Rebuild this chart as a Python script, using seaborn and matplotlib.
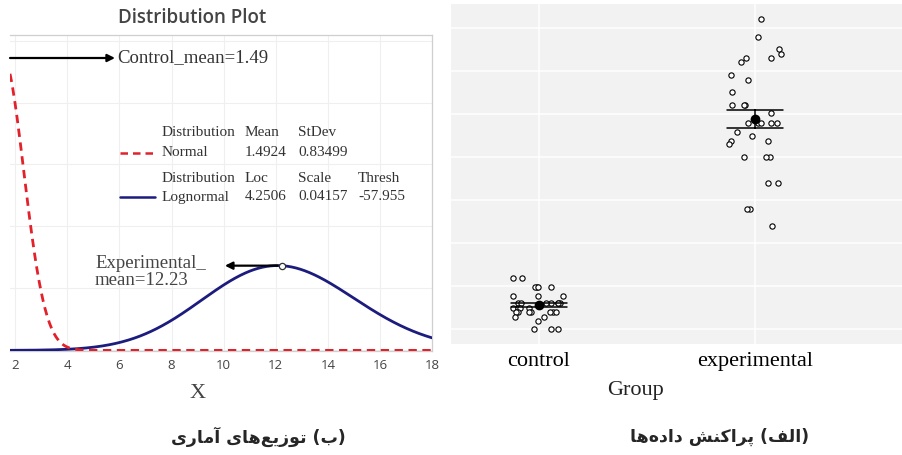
import numpy as np
import pandas as pd
import matplotlib
matplotlib.use("Agg")
import matplotlib.pyplot as plt
import seaborn as sns
from matplotlib.lines import Line2D

# ---------------- data ----------------
# Left panel: fitted distributions (parameters as printed in the chart legend)
normal_mean = 1.4924
normal_sd = 0.83499
lognorm_loc = 4.2506
lognorm_scale = 0.04157
lognorm_thresh = -57.955
control_mean_label = "Control_mean=1.49"
exp_mean_label = "Experimental_\nmean=12.23"
exp_mean = 12.23
x_ticks = [2, 4, 6, 8, 10, 12, 14, 16, 18]

groups = ["control", "experimental"]
control = [2.99, 2.99, 2.46, 2.46, 2.46, 2.46, 1.94, 1.94, 1.94,
           1.51, 1.51, 1.51, 1.51, 1.51, 1.51, 1.51,
           1.24, 1.24, 1.24, 1.24,
           1.01, 1.01, 1.01, 1.01, 1.01, 1.01, 1.01,
           0.72, 0.72, 0.48, 0.0, 0.0, 0.0]
experimental = [18.04, 17.0, 16.3, 16.0, 15.77, 15.54, 15.77, 14.78, 14.49, 13.8,
                13.04, 13.04, 13.04, 12.57,
                11.99, 11.99, 11.99, 11.99, 11.99,
                11.47, 11.23, 10.94, 10.94, 10.77,
                10.01, 10.01, 10.01, 8.5, 8.5, 6.98, 6.98, 6.0]

caption_left = "(ب) توزیع\u200cهای آماری"
caption_right = "(الف) پراکنش داده\u200cها"

# ---------------- Persian shaping (presentation forms, visual order) ----------------
FORMS = {
    'ا': ('\uFE8D', '\uFE8E', None, None),
    'آ': ('\uFE81', '\uFE82', None, None),
    'ب': ('\uFE8F', '\uFE90', '\uFE91', '\uFE92'),
    'ت': ('\uFE95', '\uFE96', '\uFE97', '\uFE98'),
    'د': ('\uFEA9', '\uFEAA', None, None),
    'ر': ('\uFEAD', '\uFEAE', None, None),
    'ز': ('\uFEAF', '\uFEB0', None, None),
    'ش': ('\uFEB5', '\uFEB6', '\uFEB7', '\uFEB8'),
    'ع': ('\uFEC9', '\uFECA', '\uFECB', '\uFECC'),
    'ف': ('\uFED1', '\uFED2', '\uFED3', '\uFED4'),
    'ل': ('\uFEDD', '\uFEDE', '\uFEDF', '\uFEE0'),
    'م': ('\uFEE1', '\uFEE2', '\uFEE3', '\uFEE4'),
    'ن': ('\uFEE5', '\uFEE6', '\uFEE7', '\uFEE8'),
    'ه': ('\uFEE9', '\uFEEA', '\uFEEB', '\uFEEC'),
    'و': ('\uFEED', '\uFEEE', None, None),
    'پ': ('\uFB56', '\uFB57', '\uFB58', '\uFB59'),
    'ک': ('\uFB8E', '\uFB8F', '\uFB90', '\uFB91'),
    'ی': ('\uFBFC', '\uFBFD', '\uFBFE', '\uFBFF'),
}


def shape_fa(s):
    out = []
    ch = list(s)
    for i, c in enumerate(ch):
        if c == '\u200c':
            continue
        if c not in FORMS:
            out.append(c)
            continue
        f = FORMS[c]
        prev = ch[i - 1] if i > 0 else None
        nxt = ch[i + 1] if i + 1 < len(ch) else None
        jp = prev in FORMS and FORMS[prev][2] is not None
        jn = nxt in FORMS and f[2] is not None
        if jp and jn:
            g = f[3]
        elif jp:
            g = f[1]
        elif jn:
            g = f[2]
        else:
            g = f[0]
        out.append(g)
    vis = ''.join(reversed(out))
    return vis.translate(str.maketrans('()', ')('))


# ---------------- figure ----------------
sns.set_style("white")
plt.rcParams['font.family'] = ['DejaVu Sans']
W, H = 903, 455
fig = plt.figure(figsize=(W / 100, H / 100), dpi=100)

SERIF = 'Liberation Serif'
SANS = 'Open Sans'

# ---- left panel ----
ax = fig.add_axes([10 / W, (H - 351) / H, 422 / W, 316 / H])
xs = np.linspace(1.8, 18, 600)
norm_pdf = np.exp(-0.5 * ((xs - normal_mean) / normal_sd) ** 2) / (normal_sd * np.sqrt(2 * np.pi))
z = xs - lognorm_thresh
logn_pdf = np.exp(-0.5 * ((np.log(z) - lognorm_loc) / lognorm_scale) ** 2) / (z * lognorm_scale * np.sqrt(2 * np.pi))
dfl = pd.DataFrame({"x": xs, "normal": norm_pdf, "lognormal": logn_pdf})

sns.lineplot(data=dfl, x="x", y="lognormal", color="#1c1c7e", lw=2.0, ax=ax, zorder=3)
sns.lineplot(data=dfl, x="x", y="normal", color="#e3212b", lw=2.0, ax=ax, zorder=4,
             linestyle=(0, (3, 2)))

ax.set_xlim(1.8, 18)
ax.set_ylim(-0.001, 0.509)
ax.set_xticks(x_ticks)
ax.set_xticklabels([str(t) for t in x_ticks], fontfamily=SANS, fontsize=9.5, color='#444444')
ax.set_yticks(np.arange(0, 0.51, 0.1))
ax.set_yticklabels([])
ax.tick_params(axis='both', length=0)
ax.tick_params(axis='x', pad=6)
ax.grid(True, color='#efefef', lw=0.8)
ax.set_axisbelow(True)
for s in ['left']:
    ax.spines[s].set_visible(False)
for s in ['top', 'right', 'bottom']:
    ax.spines[s].set_color('#cfcfcf')
    ax.spines[s].set_linewidth(0.9)
ax.set_ylabel('')
ax.set_xlabel('X', fontfamily=SERIF, fontsize=16, color='#444444', va='center')
ax.xaxis.set_label_coords((198 - 10) / 422, (351 - 393) / 316)

fig.text(192 / W, 1 - 18 / H, 'Distribution Plot', ha='center', va='center',
         fontfamily=SANS, fontsize=13.5, fontweight='semibold', color='#444444')

# control annotation arrow + text
ax.annotate('', xy=((115 - 10) / 422, (351 - 58) / 316), xytext=(0, (351 - 58) / 316),
            xycoords='axes fraction', textcoords='axes fraction',
            arrowprops=dict(arrowstyle='-|>', color='black', lw=1.6, mutation_scale=11,
                            shrinkA=0, shrinkB=0), annotation_clip=False)
ax.text((117 - 10) / 422, (351 - 58) / 316, control_mean_label, transform=ax.transAxes,
        ha='left', va='center', fontfamily=SERIF, fontsize=13.5, color='#333333')

# experimental annotation
zpk = exp_mean - lognorm_thresh
peak = np.exp(-0.5 * ((np.log(zpk) - lognorm_loc) / lognorm_scale) ** 2) / (zpk * lognorm_scale * np.sqrt(2 * np.pi))
ax.plot([exp_mean], [peak], marker='o', ms=4.5, mfc='white', mec='#333333', mew=0.9, zorder=6)
ax.annotate('', xy=(10.05, peak), xytext=(exp_mean, peak),
            arrowprops=dict(arrowstyle='-|>', color='black', lw=1.6, mutation_scale=11,
                            shrinkA=3, shrinkB=0), zorder=5)
ax.text((95 - 10) / 422, (351 - 272) / 316, exp_mean_label, transform=ax.transAxes,
        ha='left', va='center', fontfamily=SERIF, fontsize=13.5, color='#444444', linespacing=1.05)

# legend table
cols = [(162 - 10) / 422, (245 - 10) / 422, (298 - 10) / 422, (358 - 10) / 422]
rows = [(351 - 133) / 316, (351 - 153) / 316, (351 - 178) / 316, (351 - 197) / 316]
table = [["Distribution", "Mean", "StDev", ""],
         ["Normal", "1.4924", "0.83499", ""],
         ["Distribution", "Loc", "Scale", "Thresh"],
         ["Lognormal", "4.2506", "0.04157", "-57.955"]]
for r, row in enumerate(table):
    for c, t in enumerate(row):
        if t:
            ax.text(cols[c], rows[r], t, transform=ax.transAxes, ha='left', va='center',
                    fontfamily=SERIF, fontsize=11, color='#333333')
ax.add_line(Line2D([(120 - 10) / 422, (153 - 10) / 422], [rows[1], rows[1]], transform=ax.transAxes,
                   color="#e3212b", lw=1.8, linestyle=(0, (3, 2))))
ax.add_line(Line2D([(120 - 10) / 422, (155 - 10) / 422], [rows[3], rows[3]], transform=ax.transAxes,
                   color="#1c1c7e", lw=1.8))

# ---- right panel ----
ax2 = fig.add_axes([451 / W, (H - 344) / H, 452 / W, 340 / H])
ax2.set_facecolor('#f2f2f2')
df = pd.DataFrame({"group": ["control"] * len(control) + ["experimental"] * len(experimental),
                   "value": control + experimental})
np.random.seed(11)
sns.stripplot(data=df, x="group", y="value", order=groups, jitter=0.125, size=3.8,
              color='white', edgecolor='black', linewidth=0.8, ax=ax2, zorder=3)
sns.pointplot(data=df, x="group", y="value", order=groups, errorbar='se', capsize=0.26,
              color='black', linestyle='none', marker='o', markersize=5,
              err_kws={'linewidth': 1.1}, ax=ax2, zorder=4)
ax2.set_xlim(-0.407, 1.685)
ax2.set_ylim(-0.87, 18.92)
ax2.set_yticks(np.arange(0, 18, 2.5))
ax2.set_yticklabels([])
ax2.tick_params(axis='y', length=0)
ax2.tick_params(axis='x', length=3, width=0.8, color='#333333', pad=3)
ax2.set_xticks([0, 1])
ax2.set_xticklabels(groups, fontfamily=SERIF, fontsize=16, color='black')
ax2.grid(True, color='white', lw=1.1)
ax2.set_axisbelow(True)
for s in ax2.spines.values():
    s.set_visible(False)
ax2.set_ylabel('')
ax2.set_xlabel('Group', fontfamily=SERIF, fontsize=16, color='#222222', va='center')
ax2.xaxis.set_label_coords((636 - 451) / 452, (344 - 391) / 340)

# ---- captions ----
fig.text(258 / W, 1 - 437 / H, shape_fa(caption_left), ha='center', va='center',
         fontfamily=['DejaVu Sans'], fontsize=12.5, fontweight='bold')
fig.text(720 / W, 1 - 437 / H, shape_fa(caption_right), ha='center', va='center',
         fontfamily=['DejaVu Sans'], fontsize=12.5, fontweight='bold')

fig.savefig("out.png", dpi=100)
